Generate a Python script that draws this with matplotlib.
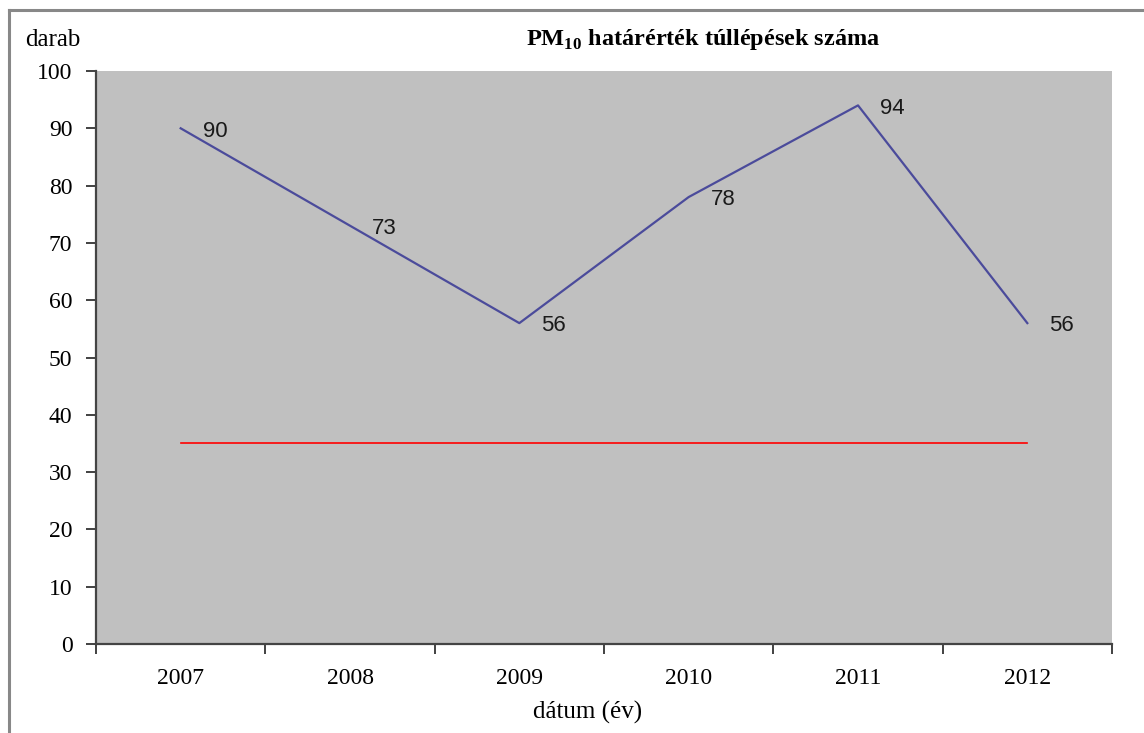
import matplotlib
matplotlib.use("Agg")
import matplotlib.pyplot as plt
from matplotlib.lines import Line2D

years = ["2007", "2008", "2009", "2010", "2011", "2012"]
exceedances = [90, 73, 56, 78, 94, 56]
limit_values = [35, 35, 35, 35, 35, 35]
y_ticks = [0, 10, 20, 30, 40, 50, 60, 70, 80, 90, 100]

plt.rcParams['font.family'] = ['Liberation Serif', 'DejaVu Serif']

fig = plt.figure(figsize=(11.44, 7.33), dpi=100)
ax = fig.add_axes([96/1144, 1-644/733, (1112-96)/1144, (644-71)/733])
ax.set_facecolor('#c0c0c0')

x = list(range(len(years)))
ax.plot(x, exceedances, color='#4B4B9B', lw=1.6)
ax.plot(x, limit_values, color='#ff0000', lw=1.2)

for xi, v in zip(x, exceedances):
    ax.annotate(str(v), (xi, v), xytext=(16, -2), textcoords='offset points',
                ha='left', va='center', fontsize=16,
                family=['Liberation Sans', 'DejaVu Sans'], color='#1a1a1a')

ax.set_xlim(-0.5, len(years) - 0.5)
ax.set_ylim(0, 100)
ax.set_yticks(y_ticks)
ax.set_yticklabels([str(t) for t in y_ticks], fontsize=17)

ax.set_xticks([i - 0.5 for i in range(len(years) + 1)])
ax.set_xticklabels([])
ax.set_xticks(x, minor=True)
ax.set_xticklabels(years, minor=True, fontsize=17)
ax.tick_params(axis='x', which='minor', length=0, pad=17)
ax.tick_params(axis='x', which='major', length=7, width=1.3, direction='out', color='#333333')
ax.tick_params(axis='y', length=7, width=1.3, direction='out', color='#333333', pad=10)

for s in ['top', 'right']:
    ax.spines[s].set_visible(False)
for s in ['left', 'bottom']:
    ax.spines[s].set_color('#444444')
    ax.spines[s].set_linewidth(1.6)

fig.text(588/1144, 1-712/733, 'dátum (év)', ha='center', va='center', fontsize=18)
fig.text(25/1144, 1-40/733, 'darab', ha='left', va='center', fontsize=18)
fig.text(703/1144, 1-40/733, r'PM$_{\mathregular{10}}$ határérték túllépések száma',
         ha='center', va='center', fontsize=17.5, fontweight='bold')

# figure frame (top and left edges visible in the reference)
fig.add_artist(Line2D([9/1144, 1], [1-10/733, 1-10/733], transform=fig.transFigure,
                      color='#888888', lw=2.2))
fig.add_artist(Line2D([9/1144, 9/1144], [0, 1-10/733], transform=fig.transFigure,
                      color='#888888', lw=2.2))

fig.savefig('out.png', dpi=100)
